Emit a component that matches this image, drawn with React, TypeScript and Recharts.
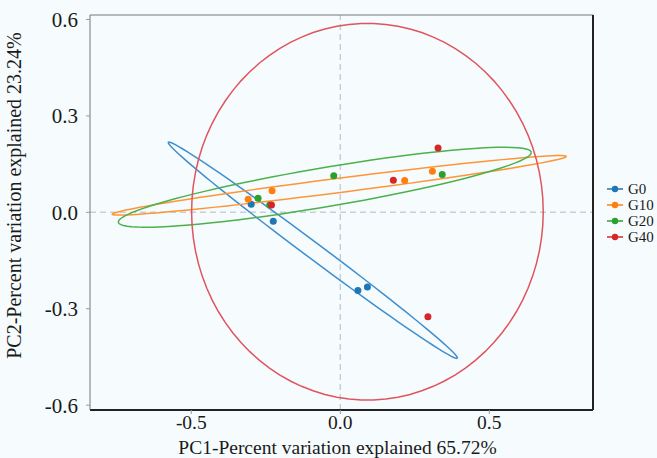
import React from 'react';
import { ScatterChart, Scatter, XAxis, YAxis, ReferenceLine, Legend } from 'recharts';

// ---- data ----
const groups = ['G0', 'G10', 'G20', 'G40'];
const groupColors = ['#1f77b4', '#ff7f0e', '#2ca02c', '#d62728'];
const ellipseColors = ['#3f8fd0', '#ff9535', '#4cb04c', '#e0545e'];

const g0X = [-0.299, -0.225, 0.059, 0.091];
const g0Y = [0.025, -0.028, -0.243, -0.232];
const g10X = [-0.309, -0.229, 0.216, 0.309];
const g10Y = [0.041, 0.067, 0.099, 0.128];
const g20X = [-0.276, -0.237, -0.022, 0.342];
const g20Y = [0.044, 0.023, 0.114, 0.118];
const g40X = [-0.231, 0.178, 0.328, 0.294];
const g40Y = [0.023, 0.1, 0.2, -0.325];

// confidence ellipse parameters (centre and conjugate half-axes, data units)
const ellipseCX = [-0.092, -0.003, -0.052, 0.091];
const ellipseCY = [-0.118, 0.084, 0.078, 0.002];
const ellipseUX = [0.485, 0.762, 0.693, 0.59];
const ellipseUY = [-0.336, 0.09, 0.109, 0];
const ellipseVX = [-0.016, 0.003, 0.011, 0];
const ellipseVY = [-0.02, -0.022, -0.06, 0.586];

const xTicks = [-0.5, 0, 0.5];
const yTicks = [-0.6, -0.3, 0, 0.3, 0.6];
const xDomain = [-0.84, 0.848];
const yDomain = [-0.615, 0.614];

const xTitle = 'PC1-Percent variation explained 65.72%';
const yTitle = 'PC2-Percent variation explained 23.24%';

const FONT = '"Liberation Serif", "Times New Roman", serif';

const pointsOf = (xs: number[], ys: number[]) => xs.map((x, i) => ({ x, y: ys[i] }));
const groupPoints = [pointsOf(g0X, g0Y), pointsOf(g10X, g10Y), pointsOf(g20X, g20Y), pointsOf(g40X, g40Y)];

const ellipseOutline = (i: number) => {
  const pts: { x: number; y: number }[] = [];
  const n = 90;
  for (let k = 0; k <= n; k++) {
    const t = (2 * Math.PI * k) / n;
    pts.push({
      x: ellipseCX[i] + ellipseUX[i] * Math.cos(t) + ellipseVX[i] * Math.sin(t),
      y: ellipseCY[i] + ellipseUY[i] * Math.cos(t) + ellipseVY[i] * Math.sin(t),
    });
  }
  return pts;
};

const noShape = () => <g />;

const renderLegend = () => (
  <div style={{ fontFamily: FONT, fontSize: 15, color: '#1a1a1a', lineHeight: '16px' }}>
    {groups.map((g, i) => (
      <div key={g} style={{ display: 'flex', alignItems: 'center', height: 16 }}>
        <svg width={18} height={10} style={{ marginRight: 4 }}>
          <line x1={1} y1={5} x2={17} y2={5} stroke={groupColors[i]} strokeWidth={1.5} />
          <circle cx={9} cy={5} r={3.2} fill={groupColors[i]} />
        </svg>
        <span>{g}</span>
      </div>
    ))}
  </div>
);

const XTitle = (props: any) => {
  const vb = props.viewBox || {};
  return (
    <text x={vb.x + vb.width / 2 - 4} y={453.5} textAnchor="middle" fontFamily={FONT} fontSize={19.5} fill="#1a1a1a">
      {xTitle}
    </text>
  );
};

const YTitle = (props: any) => {
  const vb = props.viewBox || {};
  const cx = 21;
  const cy = vb.y + vb.height / 2 - 17;
  return (
    <text x={cx} y={cy} transform={`rotate(-90 ${cx} ${cy})`} textAnchor="middle" fontFamily={FONT} fontSize={20} fill="#1a1a1a">
      {yTitle}
    </text>
  );
};

export default function App() {
  return (
    <div style={{ position: 'absolute', left: 0, top: 0, width: 657, height: 458, background: '#f6fcfd' }}>
      <ScatterChart width={657} height={458} margin={{ top: 15, right: 64, bottom: 0, left: 0 }}>
        <XAxis
          type="number"
          dataKey="x"
          domain={xDomain}
          ticks={xTicks}
          allowDataOverflow
          tickFormatter={(v: number) => v.toFixed(1)}
          height={48}
          axisLine={{ stroke: '#222', strokeWidth: 2 }}
          tickLine={{ stroke: '#999' }}
          tickSize={4}
          tickMargin={1}
          tick={{ fill: '#1a1a1a', fontSize: 19.5, fontFamily: FONT }}
          label={<XTitle />}
        />
        <YAxis
          type="number"
          dataKey="y"
          domain={yDomain}
          ticks={yTicks}
          allowDataOverflow
          tickFormatter={(v: number) => v.toFixed(1)}
          width={90}
          axisLine={{ stroke: '#777', strokeWidth: 1 }}
          tickLine={{ stroke: '#999' }}
          tickSize={4}
          tickMargin={8}
          tick={{ fill: '#1a1a1a', fontSize: 21, fontFamily: FONT }}
          label={<YTitle />}
        />
        <ReferenceLine x={0} stroke="#c6cfdc" strokeWidth={1.5} strokeDasharray="6 4" />
        <ReferenceLine y={0} stroke="#c6cfdc" strokeWidth={1.5} strokeDasharray="6 4" />
        <ReferenceLine y={yDomain[1]} stroke="#777" strokeWidth={1} />
        <ReferenceLine x={xDomain[1]} stroke="#222" strokeWidth={2} />
        {groups.map((g, i) => (
          <Scatter
            key={'e' + g}
            name={'ellipse ' + g}
            data={ellipseOutline(i)}
            line={{ stroke: ellipseColors[i], strokeWidth: 1.5 }}
            lineType="joint"
            shape={noShape}
            legendType="none"
            isAnimationActive={false}
          />
        ))}
        {groups.map((g, i) => (
          <Scatter
            key={g}
            name={g}
            data={groupPoints[i]}
            fill={groupColors[i]}
            shape={(p: any) => <circle cx={p.cx} cy={p.cy} r={3.5} fill={groupColors[i]} />}
            isAnimationActive={false}
          />
        ))}
        <Legend
          layout="vertical"
          align="center"
          verticalAlign="middle"
          content={renderLegend}
          wrapperStyle={{ left: 606, top: 181, width: 50 }}
        />
      </ScatterChart>
    </div>
  );
}
